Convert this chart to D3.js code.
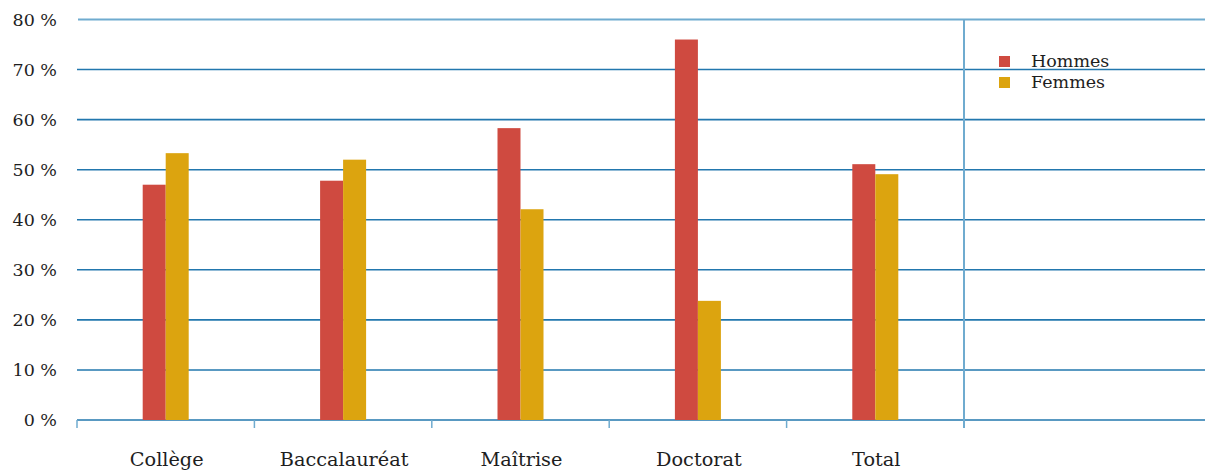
<!DOCTYPE html>
<html><head><meta charset="utf-8">
<script src="https://cdn.jsdelivr.net/npm/d3@7"></script>
<style>body{margin:0;background:#fff}svg{display:block}</style>
</head><body>
<svg id="chart" width="1205" height="472"></svg>
<script>
const categories = ["Collège", "Baccalauréat", "Maîtrise", "Doctorat", "Total"];
const series = ["Hommes", "Femmes"];
const hommes = [47.0, 47.8, 58.3, 76.0, 51.1];
const femmes = [53.3, 52.0, 42.1, 23.8, 49.1];
const yTicks = [0, 10, 20, 30, 40, 50, 60, 70, 80];
const yTickLabels = ["0 %", "10 %", "20 %", "30 %", "40 %", "50 %", "60 %", "70 %", "80 %"];
const colors = ["#cf4a40", "#dca40f"];

const svg = d3.select("#chart");
const font = "'DejaVu Serif', serif";
const plotLeft = 77, plotRight = 1205, catRight = 964;
const y = d3.scaleLinear().domain([0, 80]).range([420, 19.5]);
const x = d3.scaleBand().domain(categories).range([plotLeft, catRight]).padding(0);
const xs = d3.scaleBand().domain(series).range([x.bandwidth()/2 - 23, x.bandwidth()/2 + 23]);
const values = {Hommes: hommes, Femmes: femmes};

// gridlines
svg.append("g").selectAll("line").data(yTicks).join("line")
  .attr("x1", d => d === 80 ? plotLeft + 1 : plotLeft).attr("x2", plotRight)
  .attr("y1", d => y(d)).attr("y2", d => y(d))
  .attr("stroke", d => d === 80 ? "#6fabcf" : "#2277ae")
  .attr("stroke-width", d => d === 80 ? 2 : 1.6);

// y labels
svg.append("g").selectAll("text").data(yTicks).join("text")
  .attr("x", 57).attr("y", d => y(d)).attr("dy", "0.35em")
  .attr("text-anchor", "end").attr("font-family", font).attr("font-size", 17.5)
  .attr("fill", "#1e1e1e").text((d, i) => yTickLabels[i]);

// bars
const g = svg.append("g");
categories.forEach((c, i) => {
  series.forEach((s, j) => {
    const v = values[s][i];
    g.append("rect")
      .attr("x", x(c) + xs(s)).attr("width", xs.bandwidth())
      .attr("y", y(v)).attr("height", y(0) - y(v))
      .attr("fill", colors[j]);
  });
});

// x-axis ticks at band boundaries
const boundaries = categories.map(c => x(c));
svg.append("g").selectAll("line").data(boundaries).join("line")
  .attr("x1", d => d).attr("x2", d => d).attr("y1", 420).attr("y2", 428)
  .attr("stroke", "#6fabcf").attr("stroke-width", 1.5);

// separator vertical line
svg.append("line").attr("x1", catRight).attr("x2", catRight)
  .attr("y1", 19).attr("y2", 428)
  .attr("stroke", "#6fabcf").attr("stroke-width", 2);

// x labels
svg.append("g").selectAll("text").data(categories).join("text")
  .attr("x", d => x(d) + x.bandwidth()/2 + 1).attr("y", 466)
  .attr("text-anchor", "middle").attr("font-family", font).attr("font-size", 19.3)
  .attr("fill", "#1e1e1e").text(d => d);

// legend
const leg = svg.append("g");
series.forEach((s, j) => {
  leg.append("rect").attr("x", 999).attr("y", 56 + j*21).attr("width", 11).attr("height", 11).attr("fill", colors[j]);
  leg.append("text").attr("x", 1031).attr("y", 67 + j*21).attr("font-family", font).attr("font-size", 17.5)
    .attr("fill", "#1e1e1e").text(s);
});
</script>
</body></html>
